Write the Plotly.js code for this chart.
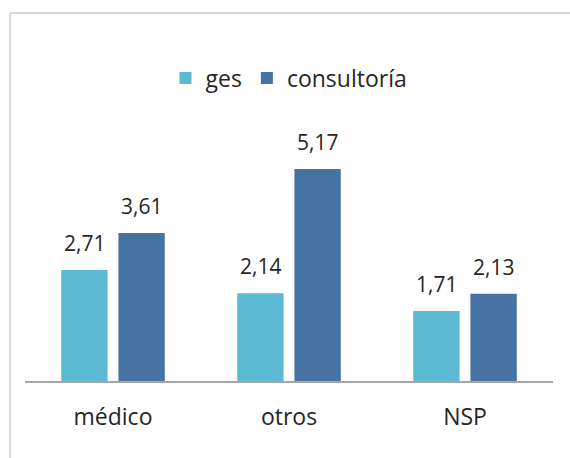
<!DOCTYPE html>
<html>
<head>
<meta charset="utf-8">
<script src="https://cdn.plot.ly/plotly-3.0.1.min.js"></script>
<style>html,body{margin:0;padding:0;background:#fff;}#chart{width:570px;height:458px;}</style>
</head>
<body>
<div id="chart"></div>
<script>
var categories = ["médico", "otros", "NSP"];
var seriesNames = ["ges", "consultoría"];
var gesValues = [2.71, 2.14, 1.71];
var consultoriaValues = [3.61, 5.17, 2.13];

var fontFam = "Open Sans, Lato, sans-serif";
var colors = ["#5bb9d2", "#4673a3"];
var allSeries = [gesValues, consultoriaValues];

var traces = allSeries.map(function (vals, i) {
  return {type: "bar", name: seriesNames[i], x: categories, y: vals,
          marker: {color: colors[i]}, hoverinfo: "none"};
});

var fmt = function (v) { return v.toFixed(2).replace(".", ","); };
var annotations = [];
allSeries.forEach(function (vals, i) {
  vals.forEach(function (v, j) {
    annotations.push({x: categories[j], y: v, xref: "x", yref: "y",
      text: fmt(v), showarrow: false, yanchor: "bottom", xanchor: "center",
      xshift: (i === 0 ? -28.5 : 28.5), yshift: 11,
      font: {size: 21, color: "#262626", family: fontFam}});
  });
});

var layout = {
  width: 570, height: 458,
  margin: {l: 25, r: 17, t: 110, b: 77},
  paper_bgcolor: "#ffffff", plot_bgcolor: "#ffffff",
  font: {family: fontFam, color: "#262626", size: 18},
  barmode: "group", bargap: 0.35, bargroupgap: 0.19,
  showlegend: true,
  legend: {orientation: "h", x: 0.5, xanchor: "center", y: 1.118, yanchor: "middle",
           font: {size: 23, color: "#262626"}, itemwidth: 30, tracegroupgap: 0},
  xaxis: {showline: true, linecolor: "#a6a6a6", linewidth: 1.5, ticks: "", showgrid: false,
          tickfont: {size: 23, color: "#262626"}, ticklabelstandoff: 15},
  yaxis: {range: [0, 6.61], visible: false, showgrid: false, zeroline: false},
  annotations: annotations,
  shapes: [
    {type: "line", xref: "paper", yref: "paper", x0: -0.0284, x1: -0.0284, y0: -0.3, y1: 1.358,
     line: {color: "#d9d9d9", width: 2}},
    {type: "line", xref: "paper", yref: "paper", x0: -0.0284, x1: 1.1, y0: 1.358, y1: 1.358,
     line: {color: "#d9d9d9", width: 2}}
  ]
};
Plotly.newPlot("chart", traces, layout, {displayModeBar: false, staticPlot: true});
</script>
</body>
</html>
